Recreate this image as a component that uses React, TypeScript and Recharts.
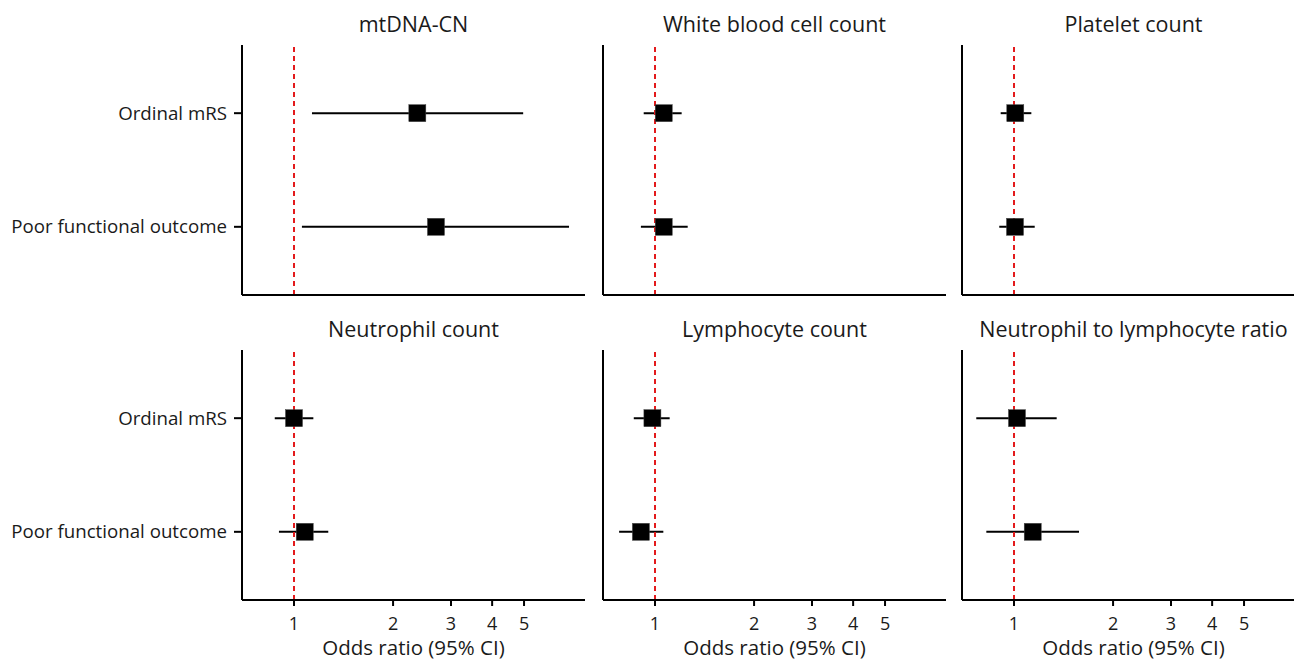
import React from 'react';
import { ScatterChart, Scatter, XAxis, YAxis, ErrorBar, ReferenceLine } from 'recharts';

// panel titles, in reading order
const panels = [
  'mtDNA-CN',
  'White blood cell count',
  'Platelet count',
  'Neutrophil count',
  'Lymphocyte count',
  'Neutrophil to lymphocyte ratio',
];

const outcomes = ['Poor functional outcome', 'Ordinal mRS'];

// odds ratios per panel: [poor functional outcome, ordinal mRS]
const orValues = [
  [2.70, 2.37],
  [1.063, 1.063],
  [1.007, 1.009],
  [1.078, 1.0],
  [0.906, 0.982],
  [1.14, 1.021],
];
const ciLow = [
  [1.057, 1.134],
  [0.906, 0.924],
  [0.902, 0.911],
  [0.90, 0.874],
  [0.778, 0.862],
  [0.824, 0.768],
];
const ciHigh = [
  [6.85, 4.97],
  [1.257, 1.205],
  [1.156, 1.129],
  [1.271, 1.145],
  [1.06, 1.108],
  [1.576, 1.348],
];

const xTicks = [1, 2, 3, 4, 5];
const xDomain = [0.695, 7.66];

const FONT = '"Open Sans", "Noto Sans", sans-serif';
const TEXT = '#1a1a1a';

const Square = (props: any) => {
  const { cx, cy } = props;
  if (cx == null || cy == null) return null;
  return <rect x={cx - 8.5} y={cy - 8.5} width={17} height={17} fill='#000' stroke='#444' strokeWidth={0.5} />;
};

const Panel = ({ idx }: { idx: number }) => {
  const col = idx % 3;
  const row = Math.floor(idx / 3);
  const bottom = row === 1;
  const data = outcomes.map((name, i) => ({
    name,
    y: i + 1,
    or: orValues[idx][i],
    err: [orValues[idx][i] - ciLow[idx][i], ciHigh[idx][i] - orValues[idx][i]],
  }));
  const yAxisW = col === 0 ? 242 : 8;
  const left = col === 0 ? 0 : col === 1 ? 595 : 954;
  const width = col === 0 ? 595 : 360;
  const rightMargin = width - yAxisW - 343;
  return (
    <div style={{ position: 'absolute', left, top: bottom ? 300 : 0 }}>
      <ScatterChart
        width={width}
        height={bottom ? 360 : 300}
        margin={{ top: bottom ? 50 : 45, right: rightMargin, bottom: 0, left: 0 }}
      >
        <XAxis
          type='number'
          dataKey='or'
          scale='log'
          domain={xDomain}
          ticks={xTicks}
          allowDataOverflow
          height={bottom ? 60 : 5}
          stroke='#000'
          strokeWidth={2}
          tick={bottom ? { fill: TEXT, fontSize: 18, fontFamily: FONT } : false}
          tickLine={bottom ? { stroke: '#000', strokeWidth: 2 } : false}
          tickSize={6}
          tickMargin={11}
          label={bottom ? { value: 'Odds ratio (95% CI)', position: 'insideBottom', offset: 5, fill: TEXT, fontSize: 20.5, fontFamily: FONT } : undefined}
        />
        <YAxis
          type='number'
          dataKey='y'
          domain={[0.4, 2.6]}
          ticks={[1, 2]}
          width={yAxisW}
          stroke='#000'
          strokeWidth={2}
          tick={col === 0 ? { fill: TEXT, fontSize: 18.7, fontFamily: FONT } : false}
          tickLine={col === 0 ? { stroke: '#000', strokeWidth: 2 } : false}
          tickSize={8}
          tickMargin={7}
          tickFormatter={(v: number) => outcomes[v - 1]}
        />
        <Scatter data={data} shape={<Square />} isAnimationActive={false}>
          <ErrorBar dataKey='err' direction='x' width={0} stroke='#000' strokeWidth={2} isAnimationActive={false} />
        </Scatter>
        <ReferenceLine x={1} stroke='#e31a1c' strokeWidth={2} strokeDasharray='5 4' />
      </ScatterChart>
      <div
        style={{
          position: 'absolute',
          left: yAxisW,
          width: 343,
          top: bottom ? 14 : 9,
          textAlign: 'center',
          fontFamily: FONT,
          fontSize: 21.5,
          color: TEXT,
          whiteSpace: 'nowrap',
        }}
      >
        {panels[idx]}
      </div>
    </div>
  );
};

export default function App() {
  return (
    <div style={{ position: 'absolute', left: 0, top: 0, width: 1294, height: 660, overflow: 'hidden', background: '#fff' }}>
      {panels.map((p, i) => (
        <Panel key={p} idx={i} />
      ))}
    </div>
  );
}
